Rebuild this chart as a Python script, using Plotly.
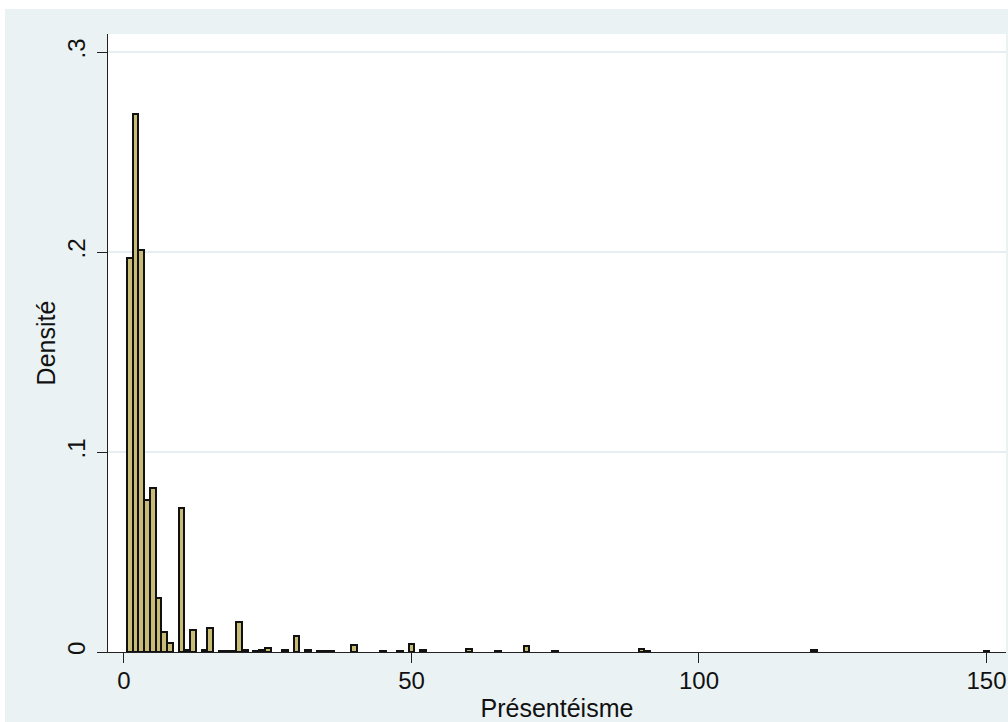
import plotly.graph_objects as go

# Histogram bins (centre of each bin, bin width 1) and densities
bin_centers = [1, 2, 3, 4, 5, 6, 7, 8, 10, 11, 12, 14, 15, 17, 18, 19, 20, 21,
               23, 24, 25, 28, 30, 32, 34, 35, 36, 40, 45, 48, 50, 52, 60, 65,
               70, 75, 90, 91, 120, 150]
densities = [0.197, 0.269, 0.201, 0.076, 0.082, 0.027, 0.010, 0.0043, 0.072,
             0.0012, 0.0112, 0.001, 0.012, 0.0004, 0.0004, 0.0004, 0.0149,
             0.001, 0.0006, 0.0012, 0.002, 0.0008, 0.0078, 0.0008, 0.0004,
             0.0004, 0.0004, 0.0033, 0.0006, 0.0006, 0.004, 0.0012, 0.0015,
             0.0006, 0.003, 0.0006, 0.0015, 0.0006, 0.0012, 0.0003]
bin_width = 1.0

x_ticks = [0, 50, 100, 150]
x_tick_labels = ["0", "50", "100", "150"]
y_ticks = [0, 0.1, 0.2, 0.3]
y_tick_labels = ["0", ".1", ".2", ".3"]

x_title = "Présentéisme"
y_title = "Densité"

FONT = "Liberation Sans"
BG = "#eaf2f3"
FILL = "#c8bb76"

fig = go.Figure()
fig.add_trace(go.Bar(
    x=bin_centers, y=densities, width=bin_width,
    marker=dict(color=FILL, line=dict(color="#111111", width=2)),
    showlegend=False,
))

W, H = 1008, 722
ml, mr, mt, mb = 108, 2, 34, 70
pw = W - ml - mr
ph = H - mt - mb

def px_to_paper_x(px):
    return (px - ml) / pw

def px_to_paper_y(py):
    return (H - mb - py) / ph

shapes = [
    dict(type="rect", xref="paper", yref="paper",
         x0=px_to_paper_x(0), x1=px_to_paper_x(5),
         y0=px_to_paper_y(H), y1=px_to_paper_y(0),
         fillcolor="white", line=dict(width=0), layer="below"),
    dict(type="rect", xref="paper", yref="paper",
         x0=px_to_paper_x(0), x1=px_to_paper_x(W),
         y0=px_to_paper_y(9), y1=px_to_paper_y(0),
         fillcolor="white", line=dict(width=0), layer="below"),
]

fig.update_layout(
    width=W, height=H,
    margin=dict(l=ml, r=mr, t=mt, b=mb, pad=0),
    paper_bgcolor=BG, plot_bgcolor="white",
    font=dict(family=FONT, size=24, color="#111111"),
    bargap=0,
    shapes=shapes,
    xaxis=dict(
        range=[-2.78, 153.4],
        tickvals=x_ticks, ticktext=x_tick_labels,
        showgrid=False, zeroline=False,
        showline=True, linecolor="#222222", linewidth=1.3,
        ticks="outside", ticklen=10, tickcolor="#222222", tickwidth=1.3,
        ticklabelstandoff=-3,
        tickfont=dict(family=FONT, size=24),
        title=dict(text=x_title, font=dict(family=FONT, size=25), standoff=6),
    ),
    yaxis=dict(
        range=[0, 0.309],
        tickvals=y_ticks, ticktext=y_tick_labels,
        tickangle=-90,
        ticklabelstandoff=2,
        showgrid=True, gridcolor="#e6eef0", gridwidth=2,
        zeroline=False,
        showline=True, linecolor="#222222", linewidth=1.3,
        ticks="outside", ticklen=10, tickcolor="#222222", tickwidth=1.3,
        tickfont=dict(family=FONT, size=24),
        title=dict(text=y_title, font=dict(family=FONT, size=25), standoff=0),
    ),
)

fig.write_html("out.html")
